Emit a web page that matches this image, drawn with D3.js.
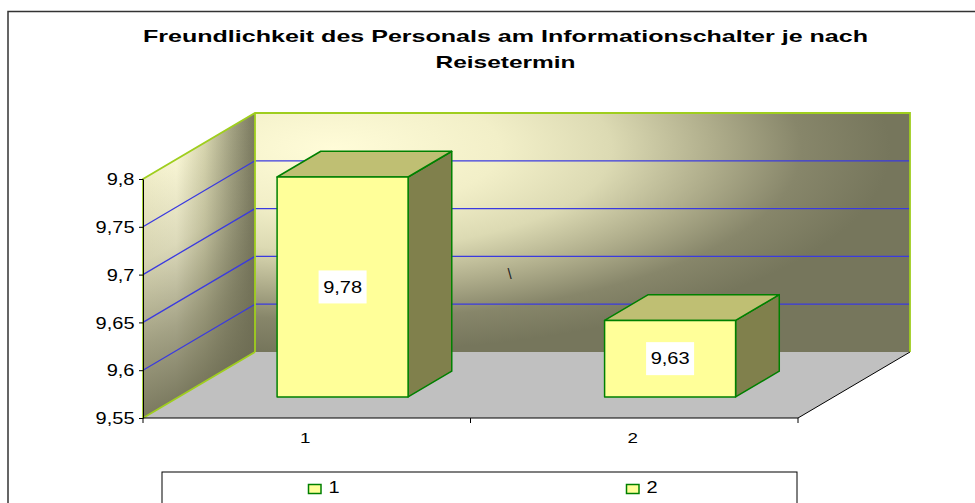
<!DOCTYPE html>
<html>
<head>
<meta charset="utf-8">
<script src="https://cdn.jsdelivr.net/npm/d3@7/dist/d3.min.js"></script>
<style>
  html, body { margin: 0; padding: 0; background: #ffffff; }
  svg { display: block; font-family: "Liberation Sans", Arial, sans-serif; }
</style>
</head>
<body>
<svg id="chart" width="975" height="503"></svg>
<script>
// ---- data ----
const categories = ["1", "2"];
const values = [9.78, 9.63];
const valueLabels = ["9,78", "9,63"];
const yTicks = [9.55, 9.6, 9.65, 9.7, 9.75, 9.8];
const yTickLabels = ["9,55", "9,6", "9,65", "9,7", "9,75", "9,8"];
const legendLabels = ["1", "2"];
const titleLines = ["Freundlichkeit des Personals am Informationschalter je nach", "Reisetermin"];
const strayMark = "\\";

// ---- layout ----
const W = 975, H = 503;
const plot = { left: 143, right: 798, bottom: 418, top: 179 };
const depth = { dx: 112, dy: -66 };
const barDepth = [0.32, 0.71];
const sx = 1.25; // horizontal stretch of text glyphs

const svg = d3.select("#chart");
const defs = svg.append("defs");

const x = d3.scaleBand().domain(categories).range([plot.left, plot.right]).paddingInner(0).paddingOuter(0);
const y = d3.scaleLinear().domain([yTicks[0], yTicks[yTicks.length - 1]]).range([plot.bottom, plot.top]);
const yMin = yTicks[0], yMax = yTicks[yTicks.length - 1];

// gradients
const rg = defs.append("radialGradient").attr("id", "backGrad")
  .attr("cx", "0.12").attr("cy", "0.15").attr("r", "0.85").attr("fx", "0.12").attr("fy", "0.15");
[[0, "#fffcd8"], [0.3, "#f2efc8"], [0.5, "#dcdab3"], [0.68, "#b0ae8c"], [0.84, "#87866a"], [1, "#76765c"]]
  .forEach(([o, c]) => rg.append("stop").attr("offset", o).attr("stop-color", c));

const sg = defs.append("linearGradient").attr("id", "sideGradH").attr("x1", 0).attr("x2", 1).attr("y1", 0).attr("y2", 0);
[[0, "#eeebc6"], [0.3, "#f8f5d4"], [0.55, "#d6d4ae"], [0.78, "#a5a484"], [1, "#7a795f"]]
  .forEach(([o, c]) => sg.append("stop").attr("offset", o).attr("stop-color", c));
const sv = defs.append("linearGradient").attr("id", "sideGradV").attr("x1", 0).attr("x2", 0).attr("y1", 0).attr("y2", 1);
[[0, "#6c6b52", 0], [0.35, "#6c6b52", 0.2], [0.7, "#6c6b52", 0.6], [1, "#6c6b52", 0.88]]
  .forEach(([o, c, a]) => sv.append("stop").attr("offset", o).attr("stop-color", c).attr("stop-opacity", a));

// outer frame
svg.append("rect").attr("x", 8).attr("y", 11.5).attr("width", W + 20).attr("height", H + 20)
  .attr("fill", "none").attr("stroke", "#333").attr("stroke-width", 1.5);

// title
const tLens = [725, 140];
svg.append("g").selectAll("text").data(titleLines).join("text")
  .attr("x", 505.5).attr("y", (d, i) => 42.3 + i * 26)
  .attr("text-anchor", "middle").attr("font-size", 17).attr("font-weight", "bold").attr("fill", "#000")
  .attr("textLength", (d, i) => tLens[i]).attr("lengthAdjust", "spacingAndGlyphs")
  .text(d => d);

const P = (px, py) => px + "," + py;
const wallGreen = "#9fce1e";

// floor
const fl = plot.left, fr = plot.right, fb = y(yMin);
svg.append("polygon")
  .attr("points", [P(fl, fb), P(fr, fb), P(fr + depth.dx, fb + depth.dy), P(fl + depth.dx, fb + depth.dy)].join(" "))
  .attr("fill", "#c0c0c0");

// back wall
const bx0 = fl + depth.dx, bx1 = fr + depth.dx, byT = y(yMax) + depth.dy, byB = y(yMin) + depth.dy;
svg.append("rect").attr("x", bx0).attr("y", byT).attr("width", bx1 - bx0).attr("height", byB - byT)
  .attr("fill", "url(#backGrad)");

// side wall (skewed rect)
const sideG = svg.append("g")
  .attr("transform", `matrix(1,${depth.dy / depth.dx},0,1,${fl},${y(yMax)})`);
sideG.append("rect").attr("x", 0).attr("y", 0).attr("width", depth.dx).attr("height", y(yMin) - y(yMax))
  .attr("fill", "url(#sideGradH)");
sideG.append("rect").attr("x", 0).attr("y", 0).attr("width", depth.dx).attr("height", y(yMin) - y(yMax))
  .attr("fill", "url(#sideGradV)");

// gridlines
const gridVals = yTicks.slice(1, -1);
const gg = svg.append("g").attr("stroke", "#3a3ae0").attr("stroke-width", 1.3).attr("fill", "none");
gg.selectAll("line.back").data(gridVals).join("line").attr("class", "back")
  .attr("x1", bx0).attr("x2", bx1).attr("y1", d => y(d) + depth.dy).attr("y2", d => y(d) + depth.dy);
gg.selectAll("line.side").data(gridVals).join("line").attr("class", "side")
  .attr("x1", fl).attr("x2", bx0).attr("y1", d => y(d)).attr("y2", d => y(d) + depth.dy);

// wall edges
const eg = svg.append("g").attr("stroke", wallGreen).attr("stroke-width", 1.8).attr("fill", "none");
eg.append("polyline").attr("points", [P(fl, fb), P(fl, y(yMax)), P(bx0, byT), P(bx1, byT), P(bx1, byB)].join(" "));
eg.append("line").attr("x1", bx0).attr("x2", bx0).attr("y1", byT).attr("y2", byB);
eg.append("line").attr("x1", fl).attr("x2", bx0).attr("y1", fb).attr("y2", byB);

// floor front + right edges
svg.append("polyline").attr("points", [P(fl, fb), P(fr, fb), P(fr + depth.dx, fb + depth.dy)].join(" "))
  .attr("fill", "none").attr("stroke", "#000").attr("stroke-width", 1);

// stray mark
svg.append("text").attr("x", 509.5).attr("y", 279).attr("text-anchor", "middle")
  .attr("font-size", 15).attr("fill", "#222").text(strayMark);

// bars
const bw = x.bandwidth() * 0.4;
const barData = categories.map((c, i) => {
  const left = x(c) + (x.bandwidth() - bw) / 2;
  const f0x = barDepth[0] * depth.dx, f0y = barDepth[0] * depth.dy;
  const f1x = barDepth[1] * depth.dx, f1y = barDepth[1] * depth.dy;
  const yt = y(values[i]), yb = y(yMin);
  return {
    i, label: valueLabels[i],
    front: [[left + f0x, yt + f0y], [left + bw + f0x, yt + f0y], [left + bw + f0x, yb + f0y], [left + f0x, yb + f0y]],
    top: [[left + f0x, yt + f0y], [left + bw + f0x, yt + f0y], [left + bw + f1x, yt + f1y], [left + f1x, yt + f1y]],
    side: [[left + bw + f0x, yt + f0y], [left + bw + f1x, yt + f1y], [left + bw + f1x, yb + f1y], [left + bw + f0x, yb + f0y]],
    cx: left + bw / 2 + f0x, cy: (yt + yb) / 2 + f0y
  };
});
const pts = arr => arr.map(p => p.join(",")).join(" ");
const bg = svg.append("g").attr("stroke", "#008000").attr("stroke-width", 1.5).attr("stroke-linejoin", "round");
const barG = bg.selectAll("g").data(barData).join("g");
barG.append("polygon").attr("points", d => pts(d.side)).attr("fill", "#80804c");
barG.append("polygon").attr("points", d => pts(d.top)).attr("fill", "#bfbf73");
barG.append("polygon").attr("points", d => pts(d.front)).attr("fill", "#ffff99");

// value labels
const lg = svg.append("g").selectAll("g").data(barData).join("g")
  .attr("transform", d => `translate(${d.cx},${d.cy})`);
lg.append("rect").attr("x", -24).attr("y", -16.5).attr("width", 48).attr("height", 33).attr("fill", "#fff");
lg.append("text").attr("transform", `scale(${sx},1)`).attr("text-anchor", "middle").attr("y", 5.8)
  .attr("font-size", 16).attr("fill", "#000").text(d => d.label);

// y axis
const yAxis = svg.append("g").attr("transform", `translate(${plot.left},0)`)
  .call(d3.axisLeft(y).tickValues(yTicks).tickFormat((d, i) => yTickLabels[i]).tickSize(4).tickSizeOuter(0));
yAxis.select(".domain").attr("stroke", "#000");
yAxis.selectAll(".tick line").attr("stroke", "#000");
yAxis.selectAll(".tick text").attr("font-size", 16).attr("font-family", "Liberation Sans, Arial, sans-serif")
  .attr("fill", "#000").attr("x", -8.5 / sx).attr("dy", "0.36em").attr("transform", `scale(${sx},1)`);

// x axis ticks and labels
const xTickPos = [plot.left, ...categories.map(c => x(c) + x.bandwidth())];
svg.append("g").selectAll("line").data(xTickPos).join("line")
  .attr("x1", d => d).attr("x2", d => d).attr("y1", fb).attr("y2", fb + 5)
  .attr("stroke", "#000").attr("stroke-width", 1);
svg.append("g").selectAll("text").data(categories).join("text")
  .attr("transform", d => `translate(${x(d) + x.bandwidth() / 2 - 1.5},443) scale(${sx},1)`)
  .attr("text-anchor", "middle").attr("font-size", 15).attr("fill", "#000").text(d => d);

// legend
svg.append("rect").attr("x", 162).attr("y", 472).attr("width", 635).attr("height", 60)
  .attr("fill", "#fff").attr("stroke", "#000").attr("stroke-width", 1);
const legX = [308.5, 626.5];
const leg = svg.append("g").selectAll("g").data(legendLabels).join("g")
  .attr("transform", (d, i) => `translate(${legX[i]},484.5)`);
leg.append("rect").attr("width", 12.5).attr("height", 9).attr("fill", "#ffff99")
  .attr("stroke", "#008000").attr("stroke-width", 1.5);
leg.append("text").attr("transform", `translate(20,8.8) scale(${sx},1)`)
  .attr("font-size", 16).attr("fill", "#000").text(d => d);
</script>
</body>
</html>
